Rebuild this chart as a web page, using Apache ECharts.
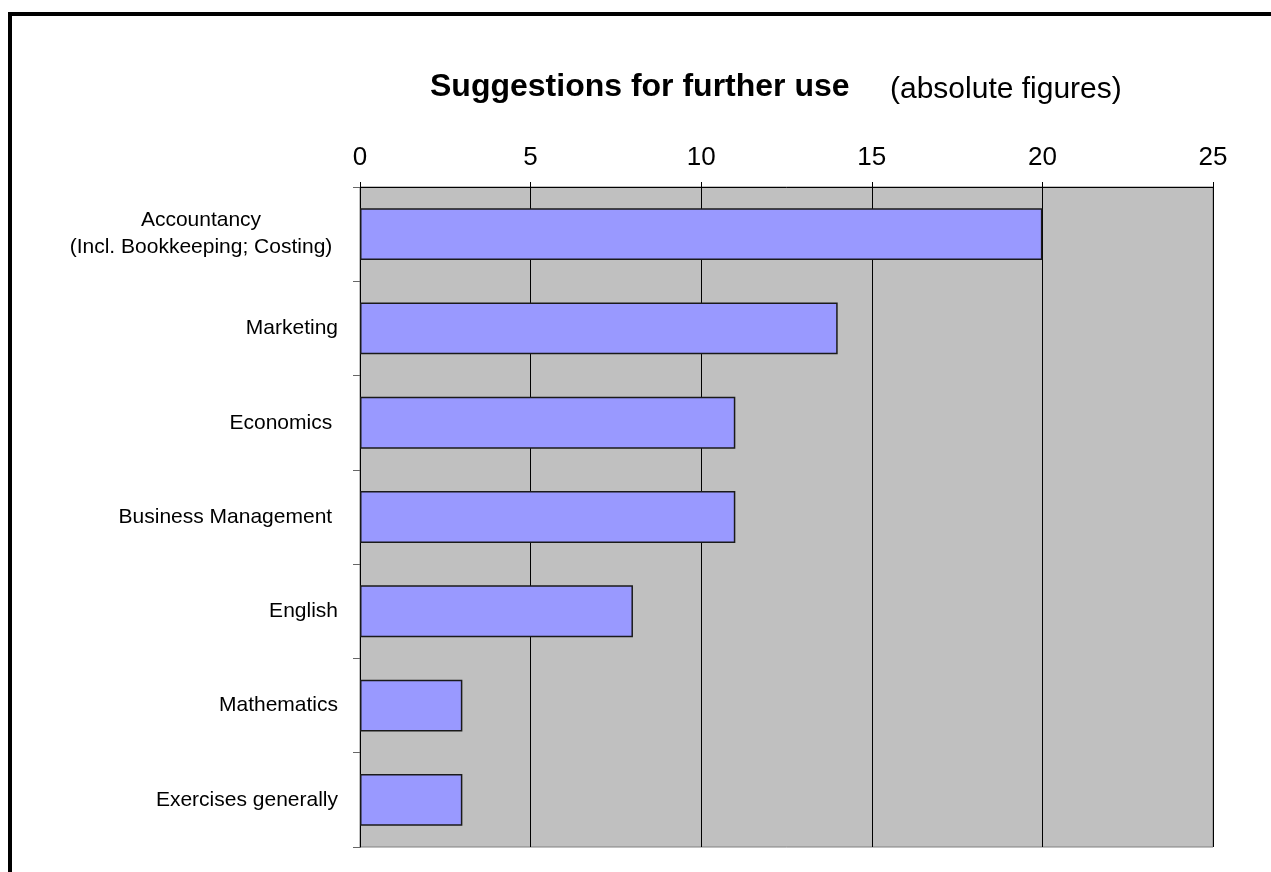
<!DOCTYPE html>
<html>
<head>
<meta charset="utf-8">
<title>Suggestions for further use</title>
<script src="https://cdn.jsdelivr.net/npm/echarts@6/dist/echarts.min.js"></script>
<style>
  html, body { margin: 0; padding: 0; background: #fff; }
  #chart { width: 1271px; height: 872px; }
</style>
</head>
<body>
<div id="chart"></div>
<script>
  // categories top to bottom
  var categories = [
    'Accountancy\n(Incl. Bookkeeping; Costing)',
    'Marketing',
    'Economics ',
    'Business Management ',
    'English',
    'Mathematics',
    'Exercises generally'
  ];
  var counts = [20, 14, 11, 11, 8, 3, 3];
  var xTicks = [0, 5, 10, 15, 20, 25];

  var font = '"Liberation Sans", Arial, sans-serif';
  var myChart = echarts.init(document.getElementById('chart'));

  myChart.setOption({
    animation: false,
    backgroundColor: '#fff',
    graphic: [
      // outer frame (only top and left edges visible)
      {
        type: 'rect',
        shape: { x: 10, y: 14, width: 1400, height: 1000 },
        style: { fill: 'none', stroke: '#000', lineWidth: 4 }
      },
      {
        type: 'text', left: 430, top: 71,
        style: { text: 'Suggestions for further use', font: 'bold 32px ' + font, fill: '#000' }
      },
      {
        type: 'text', left: 890, top: 75,
        style: { text: '(absolute figures)', font: '30px ' + font, fill: '#000' }
      }
    ],
    grid: {
      left: 360, top: 187, right: 58, bottom: 25,
      show: true,
      backgroundColor: '#c0c0c0',
      borderColor: '#808080',
      borderWidth: 1
    },
    xAxis: {
      type: 'value',
      position: 'top',
      min: xTicks[0],
      max: xTicks[xTicks.length - 1],
      interval: 5,
      axisLine: { show: true, lineStyle: { color: '#000', width: 1 } },
      axisTick: { show: true, length: 5, lineStyle: { color: '#000' } },
      axisLabel: { margin: 16, fontFamily: font, fontSize: 26, color: '#000' },
      splitLine: { show: true, lineStyle: { color: '#000', width: 1 } }
    },
    yAxis: {
      type: 'category',
      inverse: true,
      data: categories,
      axisLine: { show: true, lineStyle: { color: '#000', width: 1 } },
      axisTick: { show: true, length: 7, lineStyle: { color: '#666' } },
      axisLabel: {
        margin: 22,
        fontFamily: font,
        fontSize: 21,
        color: '#000',
        lineHeight: 27,
        formatter: function (v) {
          if (v.indexOf('\n') < 0) return v;
          return v.split('\n').map(function (s) { return '{c|' + s + '}'; }).join('\n');
        },
        rich: {
          c: { width: 274, align: 'center', fontFamily: font, fontSize: 21, lineHeight: 27, color: '#000' }
        }
      },
      splitLine: { show: false }
    },
    series: [{
      type: 'bar',
      data: counts,
      barCategoryGap: '45%',
      itemStyle: { color: '#9999ff', borderColor: '#1a1a1a', borderWidth: 1.5 },
      silent: true
    }]
  });
</script>
</body>
</html>
